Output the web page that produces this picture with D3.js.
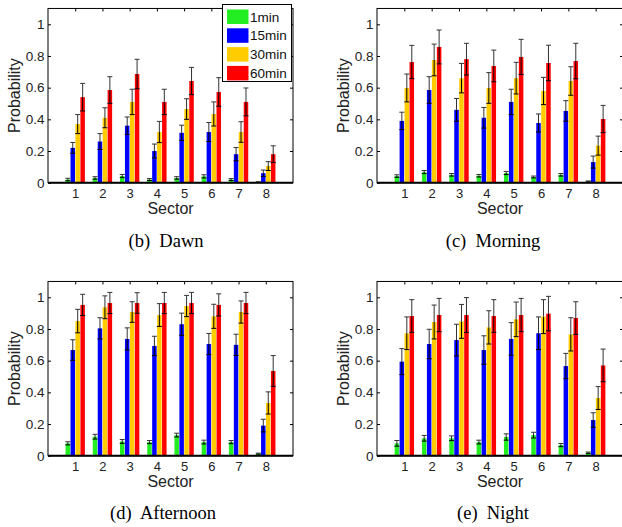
<!DOCTYPE html>
<html>
<head>
<meta charset="utf-8">
<script src="https://cdn.jsdelivr.net/npm/d3@7"></script>
<style>
  body { margin: 0; background: #fff; }
  svg { display: block; }
</style>
</head>
<body>
<script>
// Size
const w = 622;
const h = 527;

// Data
const sectors = [1, 2, 3, 4, 5, 6, 7, 8];
const seriesNames = ["1min", "15min", "30min", "60min"];
const seriesColors = ["#22ee22", "#0000ff", "#ffcc00", "#ff0000"];
const yTicks = [0, 0.2, 0.4, 0.6, 0.8, 1];

// one row per series (1min, 15min, 30min, 60min), one value per sector
const dawnVals = [
    [0.02, 0.03, 0.042, 0.02, 0.03, 0.04, 0.02, 0.004],
    [0.22, 0.26, 0.36, 0.20, 0.315, 0.32, 0.18, 0.06],
    [0.37, 0.41, 0.51, 0.32, 0.465, 0.434, 0.32, 0.105],
    [0.54, 0.585, 0.686, 0.51, 0.642, 0.573, 0.51, 0.18]
];
const dawnErr = [
    [0.008, 0.008, 0.01, 0.006, 0.008, 0.01, 0.006, 0.002],
    [0.034, 0.05, 0.055, 0.044, 0.048, 0.06, 0.042, 0.02],
    [0.06, 0.063, 0.08, 0.067, 0.065, 0.076, 0.065, 0.028],
    [0.087, 0.084, 0.093, 0.08, 0.086, 0.09, 0.088, 0.053]
];

const morningVals = [
    [0.042, 0.067, 0.05, 0.044, 0.061, 0.036, 0.05, 0.008],
    [0.39, 0.585, 0.46, 0.41, 0.51, 0.377, 0.453, 0.13],
    [0.598, 0.775, 0.66, 0.598, 0.66, 0.579, 0.642, 0.234],
    [0.762, 0.857, 0.78, 0.737, 0.794, 0.756, 0.768, 0.402]
];
const morningErr = [
    [0.008, 0.01, 0.008, 0.008, 0.01, 0.006, 0.008, 0.003],
    [0.055, 0.084, 0.072, 0.065, 0.08, 0.057, 0.065, 0.038],
    [0.088, 0.1, 0.093, 0.097, 0.1, 0.086, 0.09, 0.06],
    [0.105, 0.107, 0.1, 0.1, 0.111, 0.112, 0.112, 0.086]
];

const afternoonVals = [
    [0.078, 0.12, 0.09, 0.086, 0.13, 0.086, 0.086, 0.013],
    [0.667, 0.804, 0.737, 0.693, 0.83, 0.705, 0.70, 0.19],
    [0.85, 0.937, 0.907, 0.888, 0.945, 0.88, 0.907, 0.333],
    [0.952, 0.964, 0.964, 0.964, 0.964, 0.952, 0.964, 0.535]
];
const afternoonErr = [
    [0.01, 0.015, 0.012, 0.01, 0.012, 0.012, 0.01, 0.003],
    [0.065, 0.067, 0.07, 0.061, 0.07, 0.067, 0.067, 0.04],
    [0.074, 0.072, 0.065, 0.072, 0.067, 0.076, 0.07, 0.07],
    [0.067, 0.067, 0.065, 0.067, 0.067, 0.07, 0.067, 0.097]
];

const nightVals = [
    [0.078, 0.11, 0.11, 0.086, 0.118, 0.13, 0.067, 0.019],
    [0.594, 0.705, 0.73, 0.667, 0.737, 0.773, 0.566, 0.225],
    [0.773, 0.844, 0.848, 0.81, 0.861, 0.878, 0.766, 0.364],
    [0.882, 0.888, 0.888, 0.882, 0.888, 0.897, 0.869, 0.57]
];
const nightErr = [
    [0.018, 0.018, 0.015, 0.012, 0.02, 0.018, 0.01, 0.004],
    [0.082, 0.093, 0.1, 0.09, 0.103, 0.103, 0.08, 0.046],
    [0.103, 0.107, 0.107, 0.105, 0.109, 0.107, 0.105, 0.072],
    [0.103, 0.105, 0.11, 0.103, 0.105, 0.109, 0.103, 0.103]
];

// Panels (layout only)
const panels = [
    {title: "(b)  Dawn", vals: dawnVals, errs: dawnErr, x0: 48, x1: 293, base: 182.7, capX: 166, capY: 247, legend: true},
    {title: "(c)  Morning", vals: morningVals, errs: morningErr, x0: 377, x1: 623, base: 182.7, capX: 493, capY: 247},
    {title: "(d)  Afternoon", vals: afternoonVals, errs: afternoonErr, x0: 48, x1: 293, base: 455.7, capX: 163, capY: 519},
    {title: "(e)  Night", vals: nightVals, errs: nightErr, x0: 377, x1: 623, base: 455.7, capX: 493, capY: 519}
];

const unitPx = 158.4;     // pixels per 1.0 probability
const groupW = 4 / 5.5;   // matlab grouped bar width
const barW = 0.165;

// Create SVG
const svg = d3.select("body")
                .append("svg")
                .attr("width", w)
                .attr("height", h)
                .style("font-family", "'Liberation Sans', Arial, sans-serif");

panels.forEach(function(p) {

    const x = d3.scaleLinear().domain([0, 9]).range([p.x0, p.x1]);
    const y = d3.scaleLinear().domain([0, 1.1]).range([p.base, p.base - 1.1 * unitPx]);
    const top = y(1.1);

    const g = svg.append("g");

    // bars
    p.vals.forEach(function(series, si) {
        const off = -groupW / 2 + (2 * si + 1) * groupW / 8;
        g.selectAll(null)
            .data(series)
            .enter()
            .append("rect")
            .attr("x", (d, i) => x(sectors[i] + off - barW / 2))
            .attr("width", x(barW) - x(0))
            .attr("y", d => y(d))
            .attr("height", d => y(0) - y(d))
            .style("fill", seriesColors[si]);
    });

    // error bars: lower half black, upper half dark gray
    p.vals.forEach(function(series, si) {
        const off = -groupW / 2 + (2 * si + 1) * groupW / 8;
        const errs = p.errs[si];
        series.forEach(function(v, i) {
            const cx = x(sectors[i] + off);
            const e = errs[i];
            const lo = y(Math.max(0, v - e));
            g.append("line")
                .attr("x1", cx).attr("x2", cx)
                .attr("y1", y(v)).attr("y2", lo)
                .style("stroke", "#000").style("stroke-width", 1);
            g.append("line")
                .attr("x1", cx - 2.5).attr("x2", cx + 2.5)
                .attr("y1", lo).attr("y2", lo)
                .style("stroke", "#000").style("stroke-width", 1);
            g.append("line")
                .attr("x1", cx).attr("x2", cx)
                .attr("y1", y(v)).attr("y2", y(v + e))
                .style("stroke", "#333").style("stroke-width", 1);
            g.append("line")
                .attr("x1", cx - 2.5).attr("x2", cx + 2.5)
                .attr("y1", y(v + e)).attr("y2", y(v + e))
                .style("stroke", "#333").style("stroke-width", 1);
        });
    });

    // frame
    g.append("rect")
        .attr("x", p.x0).attr("y", top)
        .attr("width", p.x1 - p.x0).attr("height", p.base - top)
        .style("fill", "none").style("stroke", "#000").style("stroke-width", 1);

    // bar baseline
    g.append("line")
        .attr("x1", p.x0).attr("x2", p.x1)
        .attr("y1", p.base).attr("y2", p.base)
        .style("stroke", "#000").style("stroke-width", 2);

    // y axis
    const yAxis = g.append("g")
        .attr("transform", "translate(" + p.x0 + ",0)")
        .call(d3.axisLeft(y).tickValues(yTicks).tickSize(-3).tickPadding(3.5).tickFormat(d => String(d)));
    yAxis.select(".domain").remove();
    yAxis.selectAll("text").style("font-size", "13.5px").style("fill", "#222");

    // right ticks
    const rAxis = g.append("g")
        .attr("transform", "translate(" + p.x1 + ",0)")
        .call(d3.axisRight(y).tickValues(yTicks.slice(1)).tickSize(-3).tickFormat(""));
    rAxis.select(".domain").remove();

    // top ticks
    const tAxis = g.append("g")
        .attr("transform", "translate(0," + top + ")")
        .call(d3.axisTop(x).tickValues(sectors).tickSize(-3).tickFormat(""));
    tAxis.select(".domain").remove();

    // x axis labels
    const xAxis = g.append("g")
        .attr("transform", "translate(0," + p.base + ")")
        .call(d3.axisBottom(x).tickValues(sectors).tickSize(0).tickPadding(6.3));
    xAxis.select(".domain").remove();
    xAxis.selectAll("text").style("font-size", "13px").style("fill", "#222");

    // axis titles
    g.append("text")
        .attr("x", (p.x0 + p.x1) / 2)
        .attr("y", p.base + 31)
        .attr("text-anchor", "middle")
        .style("font-size", "16px")
        .style("fill", "#222")
        .text("Sector");

    g.append("text")
        .attr("transform", "translate(" + (p.x0 - 28.5) + "," + ((top + p.base) / 2) + ") rotate(-90)")
        .attr("text-anchor", "middle")
        .style("font-size", "16px")
        .style("fill", "#222")
        .text("Probability");

    // caption
    g.append("text")
        .attr("x", p.capX)
        .attr("y", p.capY)
        .attr("text-anchor", "middle")
        .style("font-family", "'Liberation Serif', 'Times New Roman', serif")
        .style("font-size", "18.5px")
        .style("white-space", "pre")
        .text(p.title);

    // legend
    if (p.legend) {
        const lg = g.append("g");
        lg.append("rect")
            .attr("x", 222.5).attr("y", 4.5)
            .attr("width", 69).attr("height", 77)
            .style("fill", "#fff").style("stroke", "#000").style("stroke-width", 1);
        seriesNames.forEach(function(name, i) {
            const ry = 9.5 + i * 18.8;
            lg.append("rect")
                .attr("x", 227).attr("y", ry)
                .attr("width", 21.5).attr("height", 14.5)
                .style("fill", seriesColors[i]);
            lg.append("text")
                .attr("x", 250).attr("y", ry + 12)
                .style("font-size", "13.5px")
                .style("fill", "#111")
                .text(name);
        });
    }
});
</script>
</body>
</html>
